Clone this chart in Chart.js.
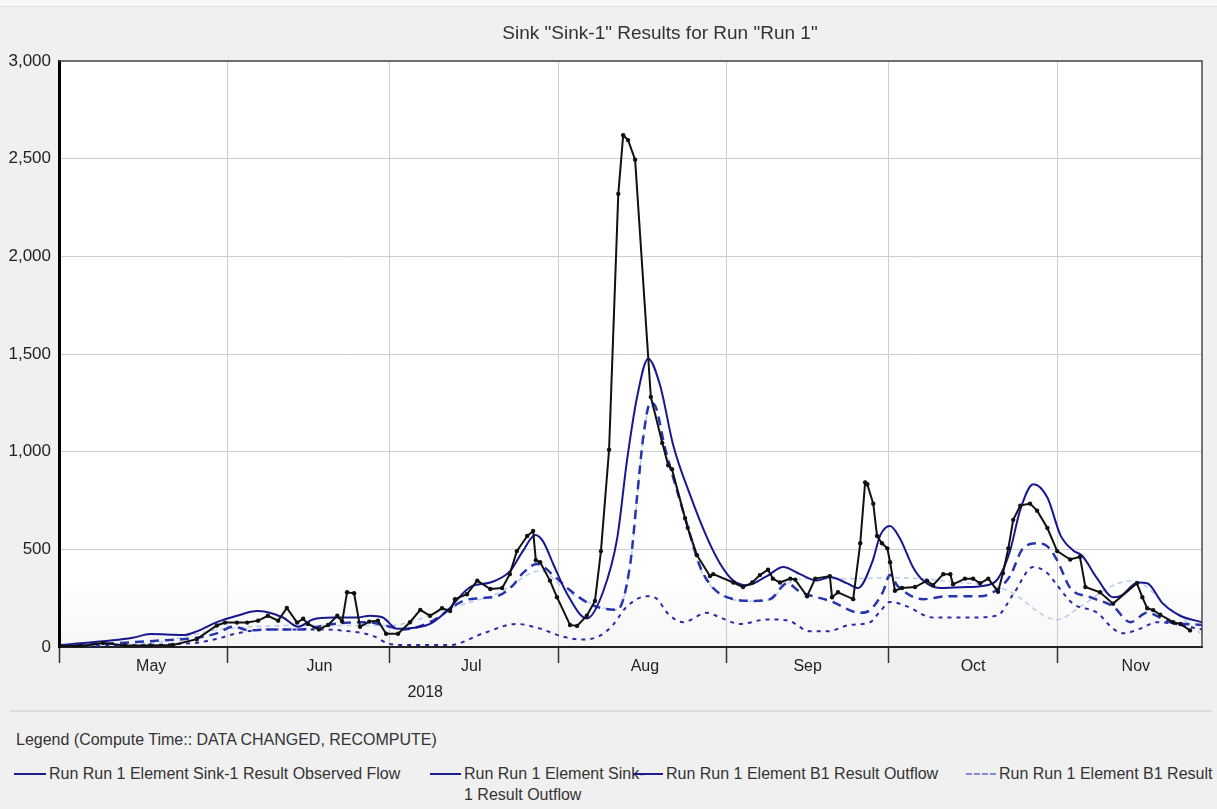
<!DOCTYPE html>
<html>
<head>
<meta charset="utf-8">
<script src="https://cdn.jsdelivr.net/npm/chart.js@4/dist/chart.umd.min.js"></script>
<style>
  html, body { margin: 0; padding: 0; background: #f0f0f0; overflow: hidden; }
  body { width: 1217px; height: 809px; position: relative; font-family: "Liberation Sans", Arial, sans-serif; color: #333; }
  #topbar { position: absolute; left: 0; top: 0; width: 1217px; height: 6px; background: #f8f8f8; border-bottom: 1px solid #e3e3e3; }
  #wrap { position: absolute; left: 0; top: 0; width: 1217px; height: 706px; }
  #title { position: absolute; top: 22px; left: 103px; right: 0; text-align: center; font-size: 19px; color: #333; white-space: nowrap; }
  #sep { position: absolute; left: 10px; top: 710px; width: 1202px; border-top: 2px solid #dcdcdc; }
  #lgHead { position: absolute; left: 16px; top: 731px; font-size: 16px; color: #333; white-space: nowrap; }
  .lg { position: absolute; top: 763px; font-size: 16px; line-height: 21px; color: #333; }
  .lg .ico { position: absolute; left: 0; top: 10px; height: 0; }
  .lg .txt { position: absolute; top: 0; }
</style>
</head>
<body>
<div id="topbar"></div>
<div id="wrap"><canvas id="chart" width="1217" height="706"></canvas></div>
<div id="title"></div>
<div id="sep"></div>
<div id="lgHead"></div>
<div id="legend"></div>
<script>
// ---- Time axis: days counted from 1 May 2018 ----
const X_MAX = 210.7;
const MONTH_START_DAYS = [0, 31, 61, 92, 123, 153, 184];
const MONTH_LABEL_DAYS = [17, 48, 76, 108, 138, 168.5, 198.5];
const MONTH_LABELS = ['May', 'Jun', 'Jul', 'Aug', 'Sep', 'Oct', 'Nov'];
const YEAR_DAY = 67.5;
const YEAR_LABEL = '2018';

// ---- Y axis ----
const Y_MIN = 0, Y_MAX = 3000, Y_STEP = 500;

const TITLE = 'Sink "Sink-1" Results for Run "Run 1"';
const LEGEND_HEADING = 'Legend (Compute Time:: DATA CHANGED, RECOMPUTE)';

// ---- Observed flow at Sink-1 ----
const OBS_DAY = [0.2, 3.9, 8.1, 12.2, 16.8, 21.0, 25.4, 29.1, 30.6, 32.8, 34.7, 36.7, 38.5, 40.4, 42.0, 43.9,
  45.0, 45.9, 47.9, 49.6, 51.3, 52.2, 53.1, 54.4, 55.5, 57.2, 58.8, 60.3, 62.5, 64.7, 66.6, 68.4, 70.6,
  72.1, 73.0, 75.2, 77.1, 79.5, 81.7, 83.1, 84.4, 86.3, 87.4, 87.9, 88.7, 90.5, 91.8, 94.2, 95.5, 97.3,
  98.8, 99.9, 101.4, 103.1, 104.0, 104.9, 106.2, 109.1, 111.2, 112.3, 113.0, 115.4, 115.9, 117.6, 120.0,
  120.6, 124.3, 126.1, 127.8, 129.2, 130.7, 131.6, 132.9, 134.8, 135.7, 137.9, 139.4, 142.1, 142.5, 143.6,
  146.4, 147.7, 148.6, 149.0, 150.1, 150.8, 151.7, 152.7, 153.2, 154.1, 155.4, 157.8, 160.0, 161.1, 163.0,
  164.3, 164.8, 167.0, 168.5, 169.8, 171.3, 173.1, 174.0, 175.0, 175.9, 177.2, 179.0, 180.3, 182.2, 184.0,
  186.4, 188.2, 189.2, 191.9, 194.3, 198.7, 199.7, 200.6, 201.7, 203.0, 205.4, 206.7, 208.5];
const OBS_FLOW = [5, 5, 20, 8, 8, 10, 40, 110, 125, 125, 125, 135, 160, 135, 200, 125,
  145, 118, 90, 113, 160, 130, 280, 275, 104, 130, 135, 68, 68, 127, 190, 160, 198,
  184, 245, 270, 340, 297, 302, 373, 491, 568, 594, 444, 434, 340, 255, 113, 108, 160,
  236, 491, 1010, 2320, 2620, 2595, 2495, 1280, 1045, 930, 910, 660, 610, 470, 363,
  373, 330, 307, 330, 368, 396, 350, 330, 350, 345, 260, 350, 363, 255, 280,
  245, 531, 843, 833, 734, 568, 531, 505, 434, 288, 302, 307, 340, 316, 373,
  373, 321, 350, 350, 326, 350, 283, 378, 505, 651, 724, 734, 698, 609, 491,
  448, 462, 307, 280, 222, 326, 255, 198, 189, 165, 127, 118, 85];

// ---- Simulated outflow at Sink-1 ----
const SINK_DAY = [0.2, 13.6, 16.8, 22.9, 25.4, 29.1, 32.8, 36.5, 38.3, 41.3, 44.1, 46.8, 50.5, 54.9, 57.3,
  59.7, 62.3, 64.2, 68.4, 71.5, 75.8, 79.5, 83.1, 85.5, 87.8, 89.2, 91.1, 93.7, 97.3, 100.3, 102.9, 104.7,
  106.6, 108.6, 110.8, 113.2, 116.3, 119.5, 121.9, 124.3, 126.8, 130.5, 133.5, 136.6, 139.7, 142.1, 145.3,
  147.3, 149.9, 151.4, 153.2, 155.0, 157.4, 159.3, 162.4, 167.4, 171.1, 173.1, 175.3, 177.2, 179.6, 182.2,
  184.6, 186.9, 188.6, 191.4, 194.3, 195.6, 198.9, 200.6, 203.5, 206.7, 210.7];
const SINK_OUTFLOW = [10, 47, 66, 61, 80, 127, 160, 184, 179, 151, 104, 141, 151, 151, 160,
  151, 94, 95, 118, 184, 307, 330, 387, 491, 573, 542, 425, 270, 146, 283, 557, 954,
  1285, 1476, 1340, 1036, 781, 557, 425, 340, 316, 363, 410, 373, 340, 358, 326,
  302, 434, 573, 620, 557, 410, 340, 302, 307, 316, 350, 491, 703, 833, 765,
  573, 495, 467, 350, 255, 260, 330, 326, 222, 160, 127];

// ---- Simulated outflow at B1 ----
const B1_DAY = [0.2, 18.6, 25.4, 29.1, 32.1, 35.2, 38.3, 44.4, 50.5, 56.8, 59.7, 63.4, 68.4, 74.5, 77.6,
  80.8, 83.7, 85.5, 88.1, 91.4, 94.2, 97.9, 100.7, 102.9, 105.3, 106.6, 107.7, 109.0, 109.9, 111.7, 113.2,
  115.8, 118.2, 120.6, 124.3, 128.0, 131.1, 134.2, 136.6, 142.1, 147.7, 149.5, 151.9, 153.2, 154.5, 159.3,
  163.7, 169.8, 172.2, 175.3, 177.7, 180.3, 182.2, 184.0, 186.4, 190.1, 194.3, 197.5, 200.6, 204.8, 210.7];
const B1_OUTFLOW = [5, 33, 47, 70, 104, 85, 90, 90, 118, 127, 113, 90, 127, 236, 250,
  260, 316, 378, 425, 360, 290, 220, 195, 190, 425, 781, 1075, 1250, 1235, 1020, 870,
  625, 410, 302, 245, 236, 245, 326, 283, 236, 175, 189, 283, 370, 316, 245,
  260, 260, 280, 363, 505, 531, 515, 444, 302, 255, 208, 127, 175, 127, 113];

// ---- B1 result (short dashes) ----
const B1R_DAY = [0.2, 24.7, 29.1, 32.8, 38.3, 47.6, 53.7, 57.9, 60.5, 62.9, 72.1, 78.2, 84.4, 88.7, 92.4,
  96.1, 99.7, 102.1, 104.7, 108.4, 110.3, 112.1, 115.0, 119.5, 121.9, 125.6, 130.5, 134.2, 138.5, 141.6,
  145.8, 149.5, 151.4, 153.2, 156.3, 161.1, 167.4, 172.9, 175.9, 179.6, 182.2, 184.0, 186.9, 191.4, 194.3,
  196.2, 199.3, 202.4, 210.7];
const B1_RESULT = [5, 20, 42, 70, 90, 90, 80, 57, 20, 10, 10, 70, 118, 94, 57,
  38, 57, 113, 208, 260, 245, 175, 127, 175, 151, 118, 141, 137, 80, 80,
  113, 127, 184, 231, 208, 151, 151, 160, 270, 410, 378, 316, 222, 175, 94,
  70, 94, 127, 90];

// ---- Secondary B1 result (light dashes, mostly running under the B1 outflow) ----
const B1S_DAY = [0.2, 16.8, 29.7, 44.4, 60.8, 72.1, 81.3, 88.7, 93.7, 102.9, 105.3, 107.7, 109.0, 111.7,
  115.8, 118.2, 120.6, 124.3, 128.0, 131.1, 134.2, 139.0, 145.8, 153.8, 164.3, 174.8, 184.0, 188.2, 194.3,
  198.0, 204.3, 210.4];
const B1_SECONDARY = [5, 20, 90, 110, 110, 200, 280, 390, 285, 190, 420, 1065, 1240, 1010,
  615, 400, 298, 242, 234, 243, 325, 350, 350, 355, 335, 290, 140, 205, 315,
  340, 210, 70];

const LEGEND_LABELS = [
  'Run Run 1 Element Sink-1 Result Observed Flow',
  'Run Run 1 Element Sink-1 Result Outflow',
  'Run Run 1 Element B1 Result Outflow',
  'Run Run 1 Element B1 Result'
];

const pts = (xs, ys) => xs.map((x, i) => ({ x, y: ys[i] }));

// White plot area with a faint shade along the baseline, plus the top/right frame
const plotFrame = {
  id: 'plotFrame',
  beforeDraw(chart) {
    const { ctx, chartArea: a } = chart;
    ctx.save();
    const g = ctx.createLinearGradient(0, a.top, 0, a.bottom);
    g.addColorStop(0, '#ffffff');
    g.addColorStop(0.88, '#ffffff');
    g.addColorStop(1, '#f6f6f6');
    ctx.fillStyle = g;
    ctx.fillRect(a.left, a.top, a.right - a.left, a.bottom - a.top);
    ctx.restore();
  },
  afterDraw(chart) {
    const { ctx, chartArea: a } = chart;
    ctx.save();
    ctx.strokeStyle = '#4a4a4a';
    ctx.lineWidth = 1.5;
    ctx.beginPath();
    ctx.moveTo(a.left, a.top);
    ctx.lineTo(a.right, a.top);
    ctx.lineTo(a.right, a.bottom);
    ctx.stroke();
    ctx.restore();
  }
};

const FONT = { family: '"Liberation Sans", Arial, sans-serif', size: 16 };
const YFONT = { family: '"Liberation Sans", Arial, sans-serif', size: 17 };

new Chart(document.getElementById('chart'), {
  type: 'line',
  data: {
    datasets: [
      { label: LEGEND_LABELS[0], data: pts(OBS_DAY, OBS_FLOW), borderColor: '#111111', borderWidth: 2,
        pointRadius: 2.2, pointBackgroundColor: '#111111', pointBorderWidth: 0, tension: 0 },
      { label: LEGEND_LABELS[1], data: pts(SINK_DAY, SINK_OUTFLOW), borderColor: '#18188e', borderWidth: 2,
        pointRadius: 0, cubicInterpolationMode: 'monotone' },
      { label: LEGEND_LABELS[2], data: pts(B1_DAY, B1_OUTFLOW), borderColor: '#2535b0', borderWidth: 2.5,
        borderDash: [9, 6], pointRadius: 0, cubicInterpolationMode: 'monotone' },
      { label: LEGEND_LABELS[3], data: pts(B1R_DAY, B1_RESULT), borderColor: '#2a2aa8', borderWidth: 2,
        borderDash: [4, 5], pointRadius: 0, cubicInterpolationMode: 'monotone' },
      { label: 'Run Run 1 Element B1 Result (secondary)', data: pts(B1S_DAY, B1_SECONDARY), borderColor: '#b6caee',
        borderWidth: 1.5, borderDash: [5, 4], pointRadius: 0, cubicInterpolationMode: 'monotone' }
    ]
  },
  options: {
    responsive: false,
    animation: false,
    devicePixelRatio: 1,
    layout: { padding: { top: 61, right: 15, left: 0, bottom: 0 } },
    plugins: { legend: { display: false }, title: { display: false }, tooltip: { enabled: false } },
    scales: {
      x: {
        type: 'linear', position: 'bottom', min: 0, max: X_MAX,
        afterBuildTicks: s => { s.ticks = MONTH_START_DAYS.map(v => ({ value: v })); },
        ticks: { display: false },
        grid: { color: '#cdcdcd', lineWidth: 1, tickLength: 16, tickColor: '#333', tickWidth: 1.5 },
        border: { color: '#222', width: 2 },
        afterFit: s => { s.height = 6; }
      },
      xm: {
        type: 'linear', position: 'bottom', min: 0, max: X_MAX,
        afterBuildTicks: s => { s.ticks = MONTH_LABEL_DAYS.map(v => ({ value: v })); },
        ticks: { callback: (v, i) => MONTH_LABELS[i], font: FONT, color: '#222', padding: -4,
                 maxRotation: 0, autoSkip: false },
        grid: { display: false }, border: { display: false },
        afterFit: s => { s.height = 30; }
      },
      yr: {
        type: 'linear', position: 'bottom', min: 0, max: X_MAX,
        afterBuildTicks: s => { s.ticks = [{ value: YEAR_DAY }]; },
        ticks: { callback: () => YEAR_LABEL, font: FONT, color: '#222', padding: -8,
                 maxRotation: 0, autoSkip: false },
        grid: { display: false }, border: { display: false },
        afterFit: s => { s.height = 23; }
      },
      y: {
        min: Y_MIN, max: Y_MAX,
        ticks: { stepSize: Y_STEP, font: YFONT, color: '#222', padding: 8,
                 callback: v => v.toLocaleString('en-US') },
        grid: { color: '#cdcdcd', lineWidth: 1, drawTicks: false },
        border: { color: '#000', width: 3 },
        afterFit: s => { s.width = 59; }
      }
    }
  },
  plugins: [plotFrame]
});

// Title and legend text
document.getElementById('title').textContent = TITLE;
document.getElementById('lgHead').textContent = LEGEND_HEADING;

const LEGEND_ITEMS = [
  { left: 14, icon: 32, color: '#1c1c8c', dash: 'solid', textWidth: 380 },
  { left: 430, icon: 31, color: '#1c1c8c', dash: 'solid', textWidth: 185 },
  { left: 633, icon: 30, color: '#1c1c8c', dash: 'solid', textWidth: 300 },
  { left: 966, icon: 30, color: '#8585dc', dash: 'dashed', textWidth: 400 }
];
const legendEl = document.getElementById('legend');
LEGEND_ITEMS.forEach((it, i) => {
  const d = document.createElement('div');
  d.className = 'lg';
  d.style.left = it.left + 'px';
  const ico = document.createElement('div');
  ico.className = 'ico';
  ico.style.width = it.icon + 'px';
  ico.style.borderTop = '2px ' + it.dash + ' ' + it.color;
  const t = document.createElement('div');
  t.className = 'txt';
  t.style.left = (it.icon + 3) + 'px';
  t.style.width = it.textWidth + 'px';
  if (i === 3) t.style.whiteSpace = 'nowrap';
  t.textContent = LEGEND_LABELS[i];
  d.appendChild(ico);
  d.appendChild(t);
  legendEl.appendChild(d);
});
</script>
</body>
</html>
